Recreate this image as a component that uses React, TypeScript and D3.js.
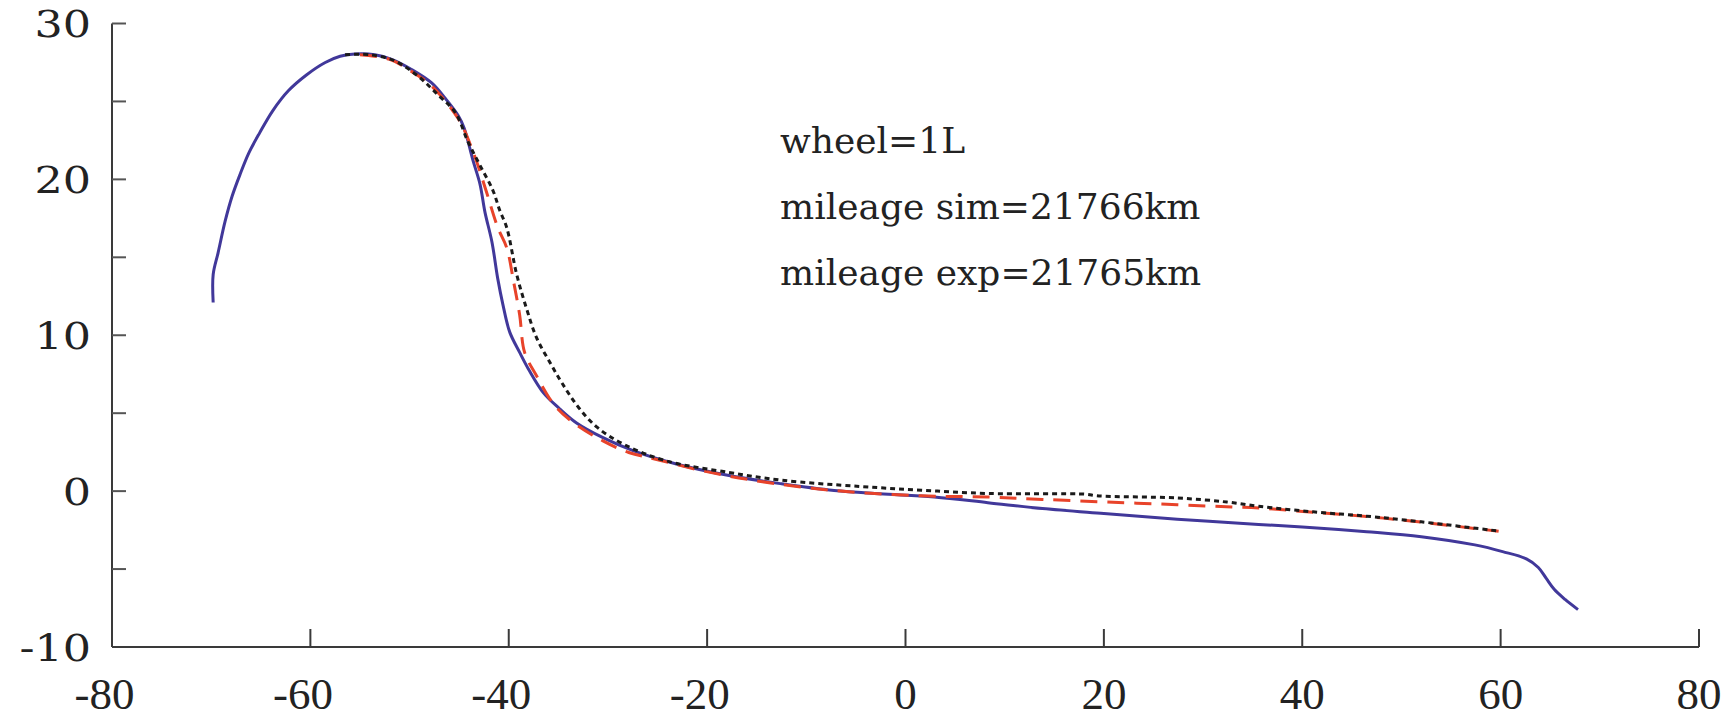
import React from "react";
import * as d3 from "d3";

// ---- data ----
const xTicks = [-80, -60, -40, -20, 0, 20, 40, 60, 80];
const yTicks = [-10, 0, 10, 20, 30];
const yMinorTicks = [-5, 5, 15, 25];

const annotations = ["wheel=1L", "mileage sim=21766km", "mileage exp=21765km"];

// solid blue line
const solidLine: [number, number][] = [
  [-69.8, 12.1], [-69.8, 13.9], [-69.3, 15.3], [-68.6, 17.3], [-67.9, 18.9],
  [-67.1, 20.3], [-66.2, 21.7], [-65.1, 23.0], [-63.8, 24.4], [-62.2, 25.7],
  [-60.4, 26.7], [-58.5, 27.5], [-57.0, 27.9], [-55.5, 28.05],
  [-53.5, 28.0], [-51.8, 27.7], [-49.8, 27.05], [-47.8, 26.2], [-46.4, 25.2],
  [-45.1, 24.1], [-44.5, 23.3], [-43.6, 21.2], [-42.9, 19.7], [-42.4, 17.9],
  [-41.7, 16.0], [-41.1, 13.6], [-40.6, 12.0], [-39.9, 10.2], [-38.9, 8.9],
  [-37.9, 7.7], [-36.5, 6.3], [-34.9, 5.3], [-33.2, 4.39], [-30.5, 3.43],
  [-27.4, 2.58], [-23.1, 1.74], [-17.8, 1.0], [-12.5, 0.47], [-7.2, 0.04],
  [-2.6, -0.17], [2.9, -0.38], [8.3, -0.74], [13.8, -1.12], [20, -1.44],
  [27.4, -1.8], [35.6, -2.14], [40, -2.3], [46.5, -2.6], [52, -2.92],
  [57.4, -3.45], [60.2, -3.88], [62.6, -4.35], [63.8, -4.9], [64.6, -5.6],
  [65.4, -6.3], [66.5, -6.95], [67.8, -7.6],
];

// red dashed line
const dashedLine: [number, number][] = [
  [-55, 28.0], [-52, 27.7], [-49.5, 26.8], [-47.8, 26.0], [-45.1, 23.9],
  [-43.5, 21.6], [-42.3, 19.3], [-41.1, 16.9], [-40.2, 15.6], [-39.5, 13.4],
  [-38.9, 11.3], [-38.4, 8.9], [-37.2, 7.4], [-35.5, 5.6],
  [-33.7, 4.5], [-30.5, 3.22], [-27.9, 2.48], [-25.2, 2.05], [-20.5, 1.31],
  [-15.2, 0.68], [-7.2, 0.04], [1.6, -0.3], [8.3, -0.38], [13.8, -0.53],
  [20.3, -0.7], [27.4, -0.87], [32.9, -1.02], [35.6, -1.08], [41.1, -1.36],
  [46.5, -1.63], [52, -1.99], [59.8, -2.58],
];

// black dotted line
const dottedLine: [number, number][] = [
  [-56.5, 28.0], [-54, 28.0], [-51.5, 27.6], [-49.1, 26.6], [-47.1, 25.4],
  [-45.4, 24.3], [-44.1, 22.4], [-42.9, 20.9], [-41.6, 19.3], [-40.9, 18.0],
  [-40.2, 16.9], [-39.2, 13.9], [-38.2, 11.7], [-37.2, 9.85], [-35.8, 8.2],
  [-34.6, 6.9], [-33.0, 5.4], [-31.1, 4.1], [-28.4, 3.0],
  [-24.2, 1.95], [-17.8, 1.2], [-12.5, 0.7], [-4.6, 0.3], [1.6, 0.06],
  [8.3, -0.15], [18.2, -0.2], [19.3, -0.3], [27.4, -0.44], [32.4, -0.7],
  [35.6, -0.97], [41.1, -1.33], [46.5, -1.61], [52, -1.97], [59.8, -2.56],
];

const W = 1727;
const H = 718;

export default function App() {
  const x = d3.scaleLinear().domain([-80, 80]).range([112, 1699]);
  const y = d3.scaleLinear().domain([-10, 30]).range([647, 23.5]);
  const line = d3
    .line<[number, number]>()
    .x((d) => x(d[0]))
    .y((d) => y(d[1]))
    .curve(d3.curveCatmullRom.alpha(0.5));

  const axisColor = "#3a3a3a";
  const xFont = 45;
  const xBase = 709;

  return (
    <svg
      width={W}
      height={H}
      style={{ position: "absolute", left: 0, top: 0, display: "block", background: "#fff" }}
    >
      {/* axes */}
      <line x1={x(-80)} x2={x(-80)} y1={y(30)} y2={y(-10)} stroke={axisColor} strokeWidth={2} />
      <line x1={x(-80)} x2={x(80)} y1={y(-10)} y2={y(-10)} stroke={axisColor} strokeWidth={2} />
      {[...yTicks, ...yMinorTicks]
        .filter((t) => t !== -10)
        .map((t) => (
          <line key={"yt" + t} x1={x(-80)} x2={x(-80) + 14} y1={y(t)} y2={y(t)} stroke="#555" strokeWidth={2} />
        ))}
      {xTicks
        .filter((t) => t !== -80)
        .map((t) => (
          <line key={"xt" + t} x1={x(t)} x2={x(t)} y1={y(-10)} y2={y(-10) - 18} stroke={axisColor} strokeWidth={2} />
        ))}

      {/* y tick labels */}
      {yTicks.map((t) => (
        <text
          key={"yl" + t}
          transform={`translate(91,${y(t)}) scale(1.17,1)`}
          textAnchor="end"
          dy="0.36em"
          fontFamily="DejaVu Serif"
          fontSize={38}
          fill="#222"
        >
          {String(t)}
        </text>
      ))}

      {/* x tick labels: digits centred on the tick, minus sign hanging left */}
      {xTicks.map((t) => {
        const digits = String(Math.abs(t));
        const half = (digits.length * 0.5 * xFont) / 2;
        return (
          <g key={"xl" + t} fontFamily="Liberation Serif" fontSize={xFont} fill="#222">
            <text x={x(t)} y={xBase} textAnchor="middle">
              {digits}
            </text>
            {t < 0 && (
              <text x={x(t) - half} y={xBase} textAnchor="end">
                -
              </text>
            )}
          </g>
        );
      })}

      {/* curves */}
      <path d={line(solidLine) || ""} fill="none" stroke="#41389a" strokeWidth={3} />
      <path d={line(dashedLine) || ""} fill="none" stroke="#e8432a" strokeWidth={3} strokeDasharray="17 10" />
      <path d={line(dottedLine) || ""} fill="none" stroke="#1a1a1a" strokeWidth={3} strokeDasharray="5 4" />

      {/* annotation */}
      {annotations.map((s, i) => (
        <text key={s} x={780} y={153 + i * 66} fontFamily="DejaVu Serif" fontSize={36} fill="#222">
          {s}
        </text>
      ))}
    </svg>
  );
}
